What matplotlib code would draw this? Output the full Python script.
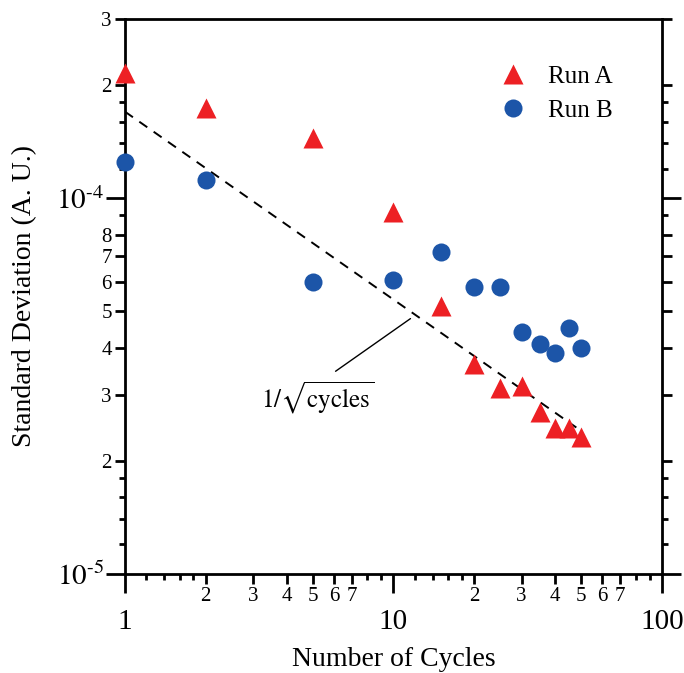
import numpy as np
import matplotlib
matplotlib.use("Agg")
from matplotlib import pyplot as plt
from matplotlib.ticker import FixedLocator, FixedFormatter, NullLocator

plt.rcParams['font.family'] = ['Liberation Serif', 'DejaVu Serif']
plt.rcParams['mathtext.fontset'] = 'stix'

# data
cycles = [1, 2, 5, 10, 15, 20, 25, 30, 35, 40, 45, 50]
run_a = [2.16e-4, 1.74e-4, 1.45e-4, 9.2e-5, 5.16e-5, 3.62e-5,
         3.13e-5, 3.16e-5, 2.70e-5, 2.44e-5, 2.44e-5, 2.31e-5]
run_b = [1.25e-4, 1.12e-4, 5.98e-5, 6.05e-5, 7.18e-5, 5.80e-5,
         5.80e-5, 4.40e-5, 4.09e-5, 3.87e-5, 4.51e-5, 3.99e-5]
fit_amp = 1.7e-4
fit_x = np.array([1, 48])

x_decades = [1, 10, 100]
x_labeled = [2, 3, 4, 5, 6, 7, 20, 30, 40, 50, 60, 70]
x_small = [1.2, 1.4, 1.6, 1.8, 8, 9, 12, 14, 16, 18, 80, 90]
y_decades = [1e-5, 1e-4]
y_labeled = [2e-5, 3e-5, 4e-5, 5e-5, 6e-5, 7e-5, 8e-5, 2e-4, 3e-4]
y_small = [1.2e-5, 1.4e-5, 1.6e-5, 1.8e-5, 9e-5, 1.2e-4, 1.4e-4, 1.6e-4, 1.8e-4]

RED = '#ED2024'
BLUE = '#1C55A8'
LW = 2.0

fig = plt.figure(figsize=(6.84, 6.73), dpi=100)
ax = fig.add_axes([0.1827, 0.1471, 0.785, 0.8247])
ax.set_xscale('log')
ax.set_yscale('log')
ax.set_xlim(1, 100)
ax.set_ylim(1e-5, 3e-4)

ax.plot(fit_x, fit_amp / np.sqrt(fit_x), color='black', lw=1.4, ls=(0, (5, 4)), zorder=2)
ax.plot(cycles, run_a, ls='none', marker='^', ms=14, color=RED, mec='none',
        label='Run A', clip_on=False, zorder=4)
ax.plot(cycles, run_b, ls='none', marker='o', ms=13, color=BLUE, mec='none',
        label='Run B', clip_on=False, zorder=4)

# annotation for the fit line
ax.annotate('', xy=(11.8, 4.83e-5), xytext=(5.97, 3.43e-5),
            arrowprops=dict(arrowstyle='-', color='black', lw=1.0))
ax.text(5.2, 2.95e-5, r'$1/\sqrt{\mathrm{cycles}}$', fontsize=18, ha='center', va='center')

for s in ax.spines.values():
    s.set_linewidth(LW)

# labeled minor ticks (2..7) as main "major", small unlabeled as minor
ax.xaxis.set_major_locator(FixedLocator(x_labeled))
ax.xaxis.set_major_formatter(FixedFormatter([str(int(v if v < 10 else v / 10)) for v in x_labeled]))
ax.xaxis.set_minor_locator(FixedLocator(x_small))
ax.yaxis.set_major_locator(FixedLocator(y_labeled))
ax.yaxis.set_major_formatter(FixedFormatter(['2', '3', '4', '5', '6', '7', '8', '2', '3']))
ax.yaxis.set_minor_locator(FixedLocator(y_small))
ax.xaxis.set_minor_formatter(FixedFormatter([]))
ax.yaxis.set_minor_formatter(FixedFormatter([]))

ax.tick_params(which='major', direction='out', length=7.5, width=LW, labelsize=15, pad=2)
ax.tick_params(which='minor', direction='out', length=4.5, width=LW)
ax.tick_params(which='both', top=False, right=True, labelright=False)

# decade ticks with long marks and big labels
secx = ax.secondary_xaxis('bottom')
secx.set_xticks(x_decades, labels=['1', '10', '100'])
secx.xaxis.set_minor_locator(NullLocator())
secx.spines['bottom'].set_visible(False)
secx.tick_params(direction='out', length=14, width=LW, labelsize=21, pad=11)

secy = ax.secondary_yaxis('left')
secy.set_yticks(y_decades, labels=[r'$10^{\text{-}5}$', r'$10^{\text{-}4}$'])
secy.yaxis.set_minor_locator(NullLocator())
secy.spines['left'].set_visible(False)
secy.tick_params(direction='out', length=14, width=LW, labelsize=21, pad=1)

secy2 = ax.secondary_yaxis('right')
secy2.set_yticks(y_decades, labels=['', ''])
secy2.yaxis.set_minor_locator(NullLocator())
secy2.spines['right'].set_visible(False)
secy2.tick_params(direction='out', length=14, width=LW)

secx.set_xlabel('Number of Cycles', fontsize=20, labelpad=9)
secy.set_ylabel('Standard Deviation (A. U.)', fontsize=20, labelpad=14)

ax.legend(loc='upper left', bbox_to_anchor=(0.635, 0.957), frameon=False, fontsize=18,
          handletextpad=0.4, labelspacing=0.45, numpoints=1)

fig.savefig('out.png', dpi=100)
